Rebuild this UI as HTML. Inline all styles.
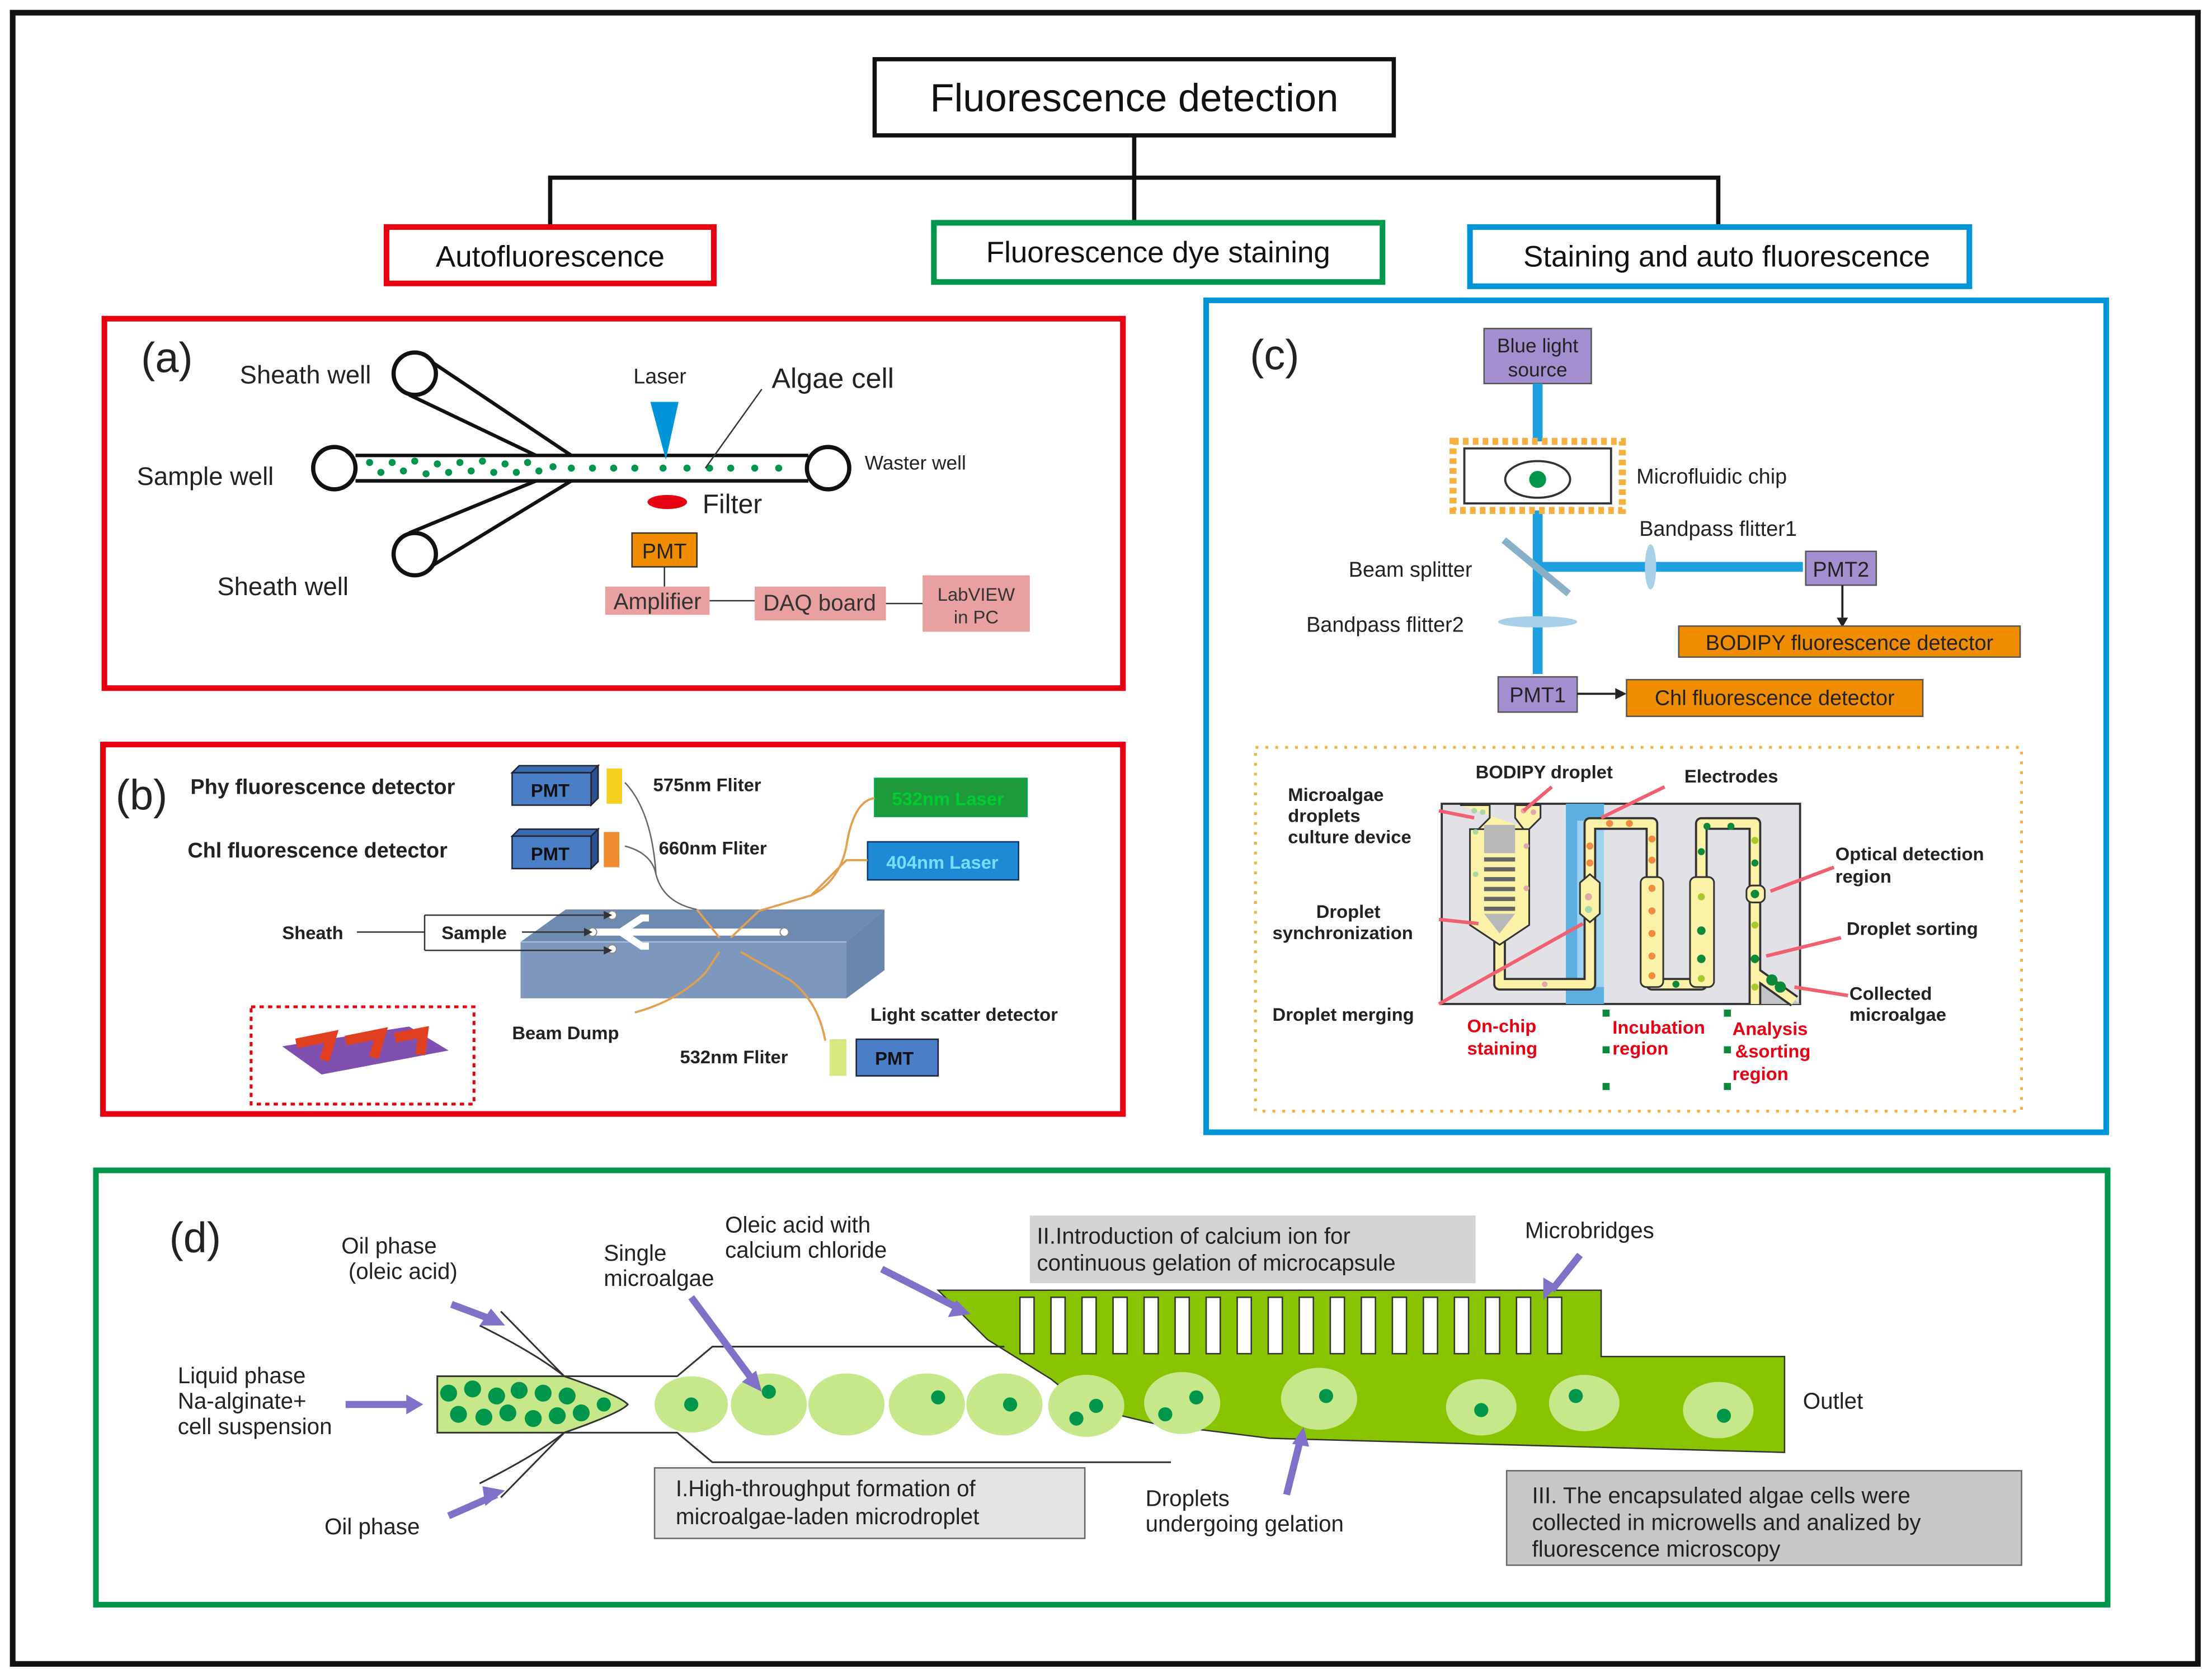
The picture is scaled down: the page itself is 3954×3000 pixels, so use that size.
<!DOCTYPE html>
<html><head><meta charset="utf-8"><style>
html,body{margin:0;padding:0;background:#fff}
svg{display:block}
text{font-family:"Liberation Sans",Arial,sans-serif}
</style></head><body>
<svg width="3954" height="3000" viewBox="0 0 1568 1190" preserveAspectRatio="none" xmlns="http://www.w3.org/2000/svg">
<rect x="0" y="0" width="1568" height="1190" fill="#fff"/>
<rect x="9" y="9" width="1549" height="1171" fill="none" stroke="#111" stroke-width="4"/>
<!-- tree -->
<rect x="620" y="42" width="368" height="54" fill="#fff" stroke="#111" stroke-width="3"/>
<text x="804" y="79" font-size="28" text-anchor="middle" fill="#111">Fluorescence detection</text>
<path d="M804 96V126M390 160V126H1218V160M804 126V158" fill="none" stroke="#111" stroke-width="3"/>
<rect x="274" y="161" width="232" height="40" fill="#fff" stroke="#e60012" stroke-width="4"/>
<text x="390" y="189" font-size="21" text-anchor="middle" fill="#111">Autofluorescence</text>
<rect x="662" y="158" width="318" height="42" fill="#fff" stroke="#00964b" stroke-width="4"/>
<text x="821" y="186" font-size="21" text-anchor="middle" fill="#111">Fluorescence dye staining</text>
<rect x="1042" y="161" width="354" height="42" fill="#fff" stroke="#0095d9" stroke-width="4"/>
<text x="1224" y="189" font-size="21" text-anchor="middle" fill="#111">Staining and auto fluorescence</text>

<!-- panel a -->
<rect x="74" y="226" width="722" height="262" fill="none" stroke="#e60012" stroke-width="4"/>
<text x="100" y="264" font-size="30" fill="#222">(a)</text>
<g fill="none" stroke="#111" stroke-width="2.5">
<line x1="252" y1="323" x2="573" y2="323"/><line x1="252" y1="341" x2="573" y2="341"/>
<line x1="305" y1="256" x2="405" y2="323"/><line x1="290" y1="280" x2="380" y2="323"/>
<line x1="305" y1="402" x2="405" y2="341"/><line x1="290" y1="378" x2="380" y2="341"/>
</g>
<g fill="#fff" stroke="#111" stroke-width="3">
<circle cx="237" cy="332" r="15"/><circle cx="587" cy="332" r="15"/>
<circle cx="294" cy="265" r="15"/><circle cx="294" cy="393" r="15"/>
</g>
<g fill="#00964b">
<circle cx="262" cy="328" r="2.5"/><circle cx="270" cy="335" r="2.5"/><circle cx="278" cy="328" r="2.5"/><circle cx="286" cy="334" r="2.5"/><circle cx="294" cy="327" r="2.5"/><circle cx="302" cy="336" r="2.5"/><circle cx="310" cy="329" r="2.5"/><circle cx="318" cy="335" r="2.5"/><circle cx="326" cy="328" r="2.5"/><circle cx="334" cy="334" r="2.5"/><circle cx="342" cy="327" r="2.5"/><circle cx="350" cy="335" r="2.5"/><circle cx="358" cy="329" r="2.5"/><circle cx="366" cy="335" r="2.5"/><circle cx="374" cy="328" r="2.5"/><circle cx="382" cy="334" r="2.5"/><circle cx="392" cy="331" r="2.5"/><circle cx="405" cy="332" r="2.5"/><circle cx="420" cy="332" r="2.5"/><circle cx="435" cy="332" r="2.5"/><circle cx="450" cy="332" r="2.5"/><circle cx="470" cy="332" r="2.5"/><circle cx="487" cy="332" r="2.5"/><circle cx="503" cy="332" r="2.5"/><circle cx="518" cy="332" r="2.5"/><circle cx="535" cy="332" r="2.5"/><circle cx="552" cy="332" r="2.5"/>
</g>
<polygon points="461,285 481,285 472,326" fill="#0095d9"/>
<line x1="500" y1="332" x2="540" y2="276" stroke="#333" stroke-width="1"/>
<ellipse cx="473" cy="356" rx="14" ry="5" fill="#e60012"/>
<text x="170" y="272" font-size="18" fill="#222">Sheath well</text>
<text x="97" y="344" font-size="18" fill="#222">Sample well</text>
<text x="154" y="422" font-size="18" fill="#222">Sheath well</text>
<text x="449" y="272" font-size="15" fill="#222">Laser</text>
<text x="547" y="275" font-size="20" fill="#222">Algae cell</text>
<text x="613" y="333" font-size="14" fill="#222">Waster well</text>
<text x="498" y="364" font-size="19" fill="#222">Filter</text>
<rect x="448" y="378" width="46" height="24" fill="#f08c00" stroke="#333" stroke-width="1"/>
<text x="471" y="396" font-size="15" text-anchor="middle" fill="#222">PMT</text>
<line x1="471" y1="402" x2="471" y2="416" stroke="#333"/>
<rect x="429" y="416" width="74" height="20" fill="#e8a0a0"/>
<text x="466" y="432" font-size="16" text-anchor="middle" fill="#333">Amplifier</text>
<line x1="503" y1="426" x2="535" y2="426" stroke="#333"/>
<rect x="535" y="416" width="93" height="24" fill="#e8a0a0"/>
<text x="581" y="433" font-size="16" text-anchor="middle" fill="#333">DAQ board</text>
<line x1="628" y1="428" x2="654" y2="428" stroke="#333"/>
<rect x="654" y="408" width="76" height="40" fill="#e8a0a0"/>
<text x="692" y="426" font-size="13" text-anchor="middle" fill="#333">LabVIEW</text>
<text x="692" y="442" font-size="13" text-anchor="middle" fill="#333">in PC</text>

<!-- panel b -->
<rect x="73" y="528" width="723" height="262" fill="none" stroke="#e60012" stroke-width="4"/>
<text x="82" y="574" font-size="30" fill="#222">(b)</text>
<text x="135" y="563" font-size="15" font-weight="bold" fill="#222">Phy fluorescence detector</text>
<text x="133" y="608" font-size="15" font-weight="bold" fill="#222">Chl fluorescence detector</text>
<g stroke="#223" stroke-width="1">
<polygon points="363,548 368,543 424,543 419,548" fill="#3a6ab0"/><polygon points="419,548 424,543 424,566 419,571" fill="#2a5090"/>
<rect x="363" y="548" width="56" height="23" fill="#4a7fc8"/>
<polygon points="363,593 368,588 424,588 419,593" fill="#3a6ab0"/><polygon points="419,593 424,588 424,611 419,616" fill="#2a5090"/>
<rect x="363" y="593" width="56" height="23" fill="#4a7fc8"/>
</g>
<text x="390" y="565" font-size="13" font-weight="bold" text-anchor="middle" fill="#111">PMT</text>
<text x="390" y="610" font-size="13" font-weight="bold" text-anchor="middle" fill="#111">PMT</text>
<rect x="430" y="545" width="11" height="25" fill="#f5d020"/>
<rect x="428" y="590" width="11" height="25" fill="#f08c30"/>
<text x="463" y="561" font-size="13" font-weight="bold" fill="#222">575nm Fliter</text>
<text x="467" y="606" font-size="13" font-weight="bold" fill="#222">660nm Fliter</text>
<rect x="620" y="552" width="108" height="27" fill="#1f9a3a" stroke="#0a5" stroke-width="1"/>
<text x="672" y="571" font-size="13" font-weight="bold" text-anchor="middle" fill="#0c3">532nm Laser</text>
<rect x="615" y="597" width="107" height="27" fill="#1e8ad6" stroke="#136" stroke-width="1"/>
<text x="668" y="616" font-size="13" font-weight="bold" text-anchor="middle" fill="#7df">404nm Laser</text>
<polygon points="401,645 627,645 600,668 369,668" fill="#6f8ab0"/>
<rect x="369" y="668" width="231" height="40" fill="#7d97bd"/>
<polygon points="600,668 627,645 627,688 600,708" fill="#6a86ad"/>
<line x1="369" y1="668" x2="600" y2="668" stroke="#a8bcd8" stroke-width="1"/>
<path d="M419 661 H556 M440 661 L455 651 H460 M440 661 L455 671 H460" stroke="#fff" stroke-width="5" fill="none"/>
<g fill="#fff" stroke="#888" stroke-width="0.8"><circle cx="420" cy="661" r="3"/><circle cx="556" cy="661" r="3"/><circle cx="434" cy="649" r="3"/><circle cx="434" cy="673" r="3"/></g>
<path d="M301 649 H428 M301 674 H428 M301 649 V674 M370 661 H414" stroke="#333" stroke-width="1" fill="none"/>
<polygon points="428,646 428,652 434,649" fill="#333"/><polygon points="428,671 428,677 434,674" fill="#333"/><polygon points="414,658 414,664 420,661" fill="#333"/>
<text x="313" y="666" font-size="13" font-weight="bold" fill="#222">Sample</text>
<line x1="253" y1="661" x2="301" y2="661" stroke="#333"/>
<text x="200" y="666" font-size="13" font-weight="bold" fill="#222">Sheath</text>
<path d="M443 555 Q462 575 465 620 Q470 640 494 645 M443 600 Q462 605 465 620" stroke="#666" stroke-width="1" fill="none"/>
<path d="M620 566 Q605 568 600 600 Q595 625 575 635 L538 646 M615 610 L600 610 L575 635" stroke="#e0a050" stroke-width="1.5" fill="none"/>
<path d="M494 645 L510 665 M538 646 L518 665 M510 675 L500 690 Q480 710 450 718 M525 675 L560 695 Q580 710 585 738" stroke="#e0a050" stroke-width="1.5" fill="none"/>
<text x="363" y="737" font-size="13" font-weight="bold" fill="#222">Beam Dump</text>
<text x="617" y="724" font-size="13" font-weight="bold" fill="#222">Light scatter detector</text>
<text x="482" y="754" font-size="13" font-weight="bold" fill="#222">532nm Fliter</text>
<rect x="588" y="737" width="12" height="26" fill="#d8e880"/>
<rect x="607" y="737" width="58" height="26" fill="#4a7fc8" stroke="#223" stroke-width="1"/>
<text x="634" y="755" font-size="13" font-weight="bold" text-anchor="middle" fill="#111">PMT</text>
<rect x="178" y="714" width="158" height="69" fill="none" stroke="#e60012" stroke-width="2" stroke-dasharray="3,3"/>
<polygon points="200,742 290,728 318,745 228,762" fill="#8050b0"/>
<path d="M210 740 L235 735 L230 752 M245 738 L270 733 L265 750 M280 736 L300 732 L298 748" stroke="#e04020" stroke-width="7" fill="none"/>

<!-- panel c -->
<rect x="855" y="213" width="638" height="590" fill="none" stroke="#0095d9" stroke-width="4"/>
<text x="886" y="262" font-size="30" fill="#222">(c)</text>
<rect x="1052" y="233" width="76" height="39" fill="#a38fd0" stroke="#555" stroke-width="1"/>
<text x="1090" y="250" font-size="14" text-anchor="middle" fill="#222">Blue light</text>
<text x="1090" y="267" font-size="14" text-anchor="middle" fill="#222">source</text>
<line x1="1090" y1="272" x2="1090" y2="478" stroke="#1ea0e0" stroke-width="7"/>
<line x1="1090" y1="402" x2="1278" y2="402" stroke="#1ea0e0" stroke-width="7"/>
<rect x="1030" y="313" width="120" height="49" fill="#fff" stroke="#f5b040" stroke-width="5" stroke-dasharray="4,3"/>
<rect x="1038" y="318" width="104" height="39" fill="#fff" stroke="#333" stroke-width="1.5"/>
<ellipse cx="1090" cy="340" rx="23" ry="13" fill="#fff" stroke="#333" stroke-width="1.5"/>
<circle cx="1090" cy="340" r="6" fill="#00964b"/>
<text x="1160" y="343" font-size="15" fill="#222">Microfluidic chip</text>
<line x1="1066" y1="383" x2="1112" y2="421" stroke="#8ab0c8" stroke-width="5"/>
<ellipse cx="1170" cy="402" rx="4" ry="16" fill="#a8d0e8"/>
<ellipse cx="1090" cy="441" rx="28" ry="4" fill="#a8d0e8"/>
<text x="956" y="409" font-size="15" fill="#222">Beam splitter</text>
<text x="1162" y="380" font-size="15" fill="#222">Bandpass flitter1</text>
<text x="926" y="448" font-size="15" fill="#222">Bandpass flitter2</text>
<rect x="1280" y="391" width="50" height="24" fill="#a38fd0" stroke="#555" stroke-width="1"/>
<text x="1305" y="409" font-size="15" text-anchor="middle" fill="#222">PMT2</text>
<path d="M1306 415V438" stroke="#222" stroke-width="1.5"/><polygon points="1302,438 1310,438 1306,445" fill="#222"/>
<rect x="1190" y="444" width="242" height="22" fill="#f08c00" stroke="#555" stroke-width="1"/>
<text x="1311" y="461" font-size="15" text-anchor="middle" fill="#222">BODIPY fluorescence detector</text>
<rect x="1062" y="480" width="56" height="25" fill="#a38fd0" stroke="#555" stroke-width="1"/>
<text x="1090" y="498" font-size="15" text-anchor="middle" fill="#222">PMT1</text>
<path d="M1118 492H1145" stroke="#222" stroke-width="1.5"/><polygon points="1145,488 1145,496 1153,492" fill="#222"/>
<rect x="1153" y="482" width="210" height="26" fill="#f08c00" stroke="#555" stroke-width="1"/>
<text x="1258" y="500" font-size="15" text-anchor="middle" fill="#222">Chl fluorescence detector</text>
<rect x="890" y="530" width="543" height="258" fill="none" stroke="#f5b040" stroke-width="2" stroke-dasharray="2,5"/>
<!-- chip -->
<rect x="1022" y="570" width="254" height="142" fill="#e2e2e6" stroke="#333" stroke-width="1.5"/>
<rect x="1110" y="570" width="27" height="142" fill="#9fd2ee"/>
<rect x="1110" y="570" width="8" height="142" fill="#5bb0e0"/>
<rect x="1110" y="570" width="27" height="12" fill="#5bb0e0"/><rect x="1110" y="700" width="27" height="12" fill="#5bb0e0"/>
<polygon points="1246,690 1276,712 1246,712" fill="#c4c4c8"/>
<!-- channels: dark outline then yellow -->
<g fill="none" stroke-linejoin="round">
<path d="M1063 662 V698 H1127 V584 H1171 V640 M1171 640 V698 H1206 V584 H1244 V712 M1244 690 L1272 710" stroke="#333" stroke-width="9"/>
<path d="M1063 662 V698 H1127 V584 H1171 V640 M1171 640 V698 H1206 V584 H1244 V712 M1244 690 L1272 710" stroke="#fbf2a8" stroke-width="6"/>
</g>
<path d="M1035 571 H1056 V580 L1048 588 V656 L1064 668 L1080 656 V588 L1074 580 V571 H1092 V580 L1084 588" fill="#fbf2a8" stroke="#333" stroke-width="1.2"/>
<path d="M1042 588 H1084 V656 L1063 670 L1042 656 Z" fill="#fbf2a8" stroke="#333" stroke-width="1.2"/>
<path d="M1052 585 H1074 V605 H1052 Z M1052 648 H1074 L1063 662 Z" fill="#b8b8b8"/>
<g fill="#666"><rect x="1052" y="608" width="22" height="3"/><rect x="1052" y="615" width="22" height="3"/><rect x="1052" y="622" width="22" height="3"/><rect x="1052" y="629" width="22" height="3"/><rect x="1052" y="636" width="22" height="3"/><rect x="1052" y="643" width="22" height="3"/></g>
<path d="M1120 626 L1127 620 L1134 626 V648 L1127 654 L1120 648 Z" fill="#fbf2a8" stroke="#333" stroke-width="1.2"/>
<rect x="1163" y="622" width="16" height="78" rx="4" fill="#fbf2a8" stroke="#333" stroke-width="1.2"/>
<rect x="1198" y="622" width="17" height="78" rx="4" fill="#fbf2a8" stroke="#333" stroke-width="1.2"/>
<rect x="1238" y="628" width="13" height="12" rx="4" fill="#fbf2a8" stroke="#333" stroke-width="1.2"/>
<g fill="#a8d8a8"><circle cx="1045" cy="575" r="2"/><circle cx="1051" cy="576" r="2"/><circle cx="1046" cy="590" r="2"/><circle cx="1046" cy="620" r="2"/><circle cx="1126" cy="645" r="2.5"/></g>
<g fill="#e0a8a8"><circle cx="1080" cy="575" r="2"/><circle cx="1087" cy="576" r="2"/><circle cx="1082" cy="600" r="2"/><circle cx="1082" cy="630" r="2"/><circle cx="1126" cy="636" r="2.5"/><circle cx="1095" cy="698" r="2"/></g>
<g fill="#f08c40"><circle cx="1127" cy="600" r="2.5"/><circle cx="1127" cy="612" r="2.5"/><circle cx="1141" cy="584" r="2.5"/><circle cx="1155" cy="584" r="2.5"/><circle cx="1171" cy="595" r="2.5"/><circle cx="1171" cy="610" r="2.5"/><circle cx="1171" cy="630" r="2.5"/><circle cx="1171" cy="646" r="2.5"/><circle cx="1171" cy="662" r="2.5"/><circle cx="1171" cy="678" r="2.5"/><circle cx="1171" cy="692" r="2.5"/></g>
<g fill="#0a8a3a"><circle cx="1210" cy="586" r="2.5"/><circle cx="1227" cy="586" r="2.5"/><circle cx="1206" cy="604" r="2.5"/><circle cx="1206" cy="660" r="3"/><circle cx="1206" cy="680" r="3"/><circle cx="1244" cy="634" r="3"/><circle cx="1244" cy="612" r="2.5"/><circle cx="1244" cy="680" r="3"/><circle cx="1188" cy="698" r="2.5"/><circle cx="1256" cy="695" r="4"/><circle cx="1262" cy="700" r="4"/></g>
<g fill="#a8c830"><circle cx="1206" cy="636" r="2.5"/><circle cx="1206" cy="694" r="2.5"/><circle cx="1244" cy="596" r="2.5"/><circle cx="1244" cy="656" r="2.5"/><circle cx="1244" cy="700" r="2.5"/></g>
<g stroke="#f06070" stroke-width="2.5">
<line x1="1020" y1="575" x2="1045" y2="580"/><line x1="1100" y1="558" x2="1080" y2="575"/>
<line x1="1180" y1="558" x2="1135" y2="580"/><line x1="1020" y1="652" x2="1048" y2="655"/>
<line x1="1020" y1="712" x2="1122" y2="655"/><line x1="1300" y1="615" x2="1255" y2="632"/>
<line x1="1305" y1="665" x2="1252" y2="678"/><line x1="1310" y1="706" x2="1272" y2="700"/>
</g>
<g font-size="13" font-weight="bold" fill="#222">
<text x="1046" y="552">BODIPY droplet</text><text x="1194" y="555">Electrodes</text>
<text x="913" y="568">Microalgae</text><text x="913" y="583">droplets</text><text x="913" y="598">culture device</text>
<text x="933" y="651">Droplet</text><text x="902" y="666">synchronization</text>
<text x="902" y="724">Droplet merging</text>
<text x="1301" y="610">Optical detection</text><text x="1301" y="626">region</text>
<text x="1309" y="663">Droplet sorting</text>
<text x="1311" y="709">Collected</text><text x="1311" y="724">microalgae</text>
</g>
<g font-size="13" font-weight="bold" fill="#e60012">
<text x="1040" y="732">On-chip</text><text x="1040" y="748">staining</text>
<text x="1143" y="733">Incubation</text><text x="1143" y="748">region</text>
<text x="1228" y="734">Analysis</text><text x="1230" y="750">&amp;sorting</text><text x="1228" y="766">region</text>
</g>
<g fill="#0a8a3a"><rect x="1136" y="716" width="5" height="5"/><rect x="1136" y="742" width="5" height="5"/><rect x="1136" y="768" width="5" height="5"/><rect x="1222" y="716" width="5" height="5"/><rect x="1222" y="742" width="5" height="5"/><rect x="1222" y="768" width="5" height="5"/></g>

<!-- panel d -->
<rect x="68" y="830" width="1426" height="308" fill="none" stroke="#00964b" stroke-width="4"/>
<text x="120" y="888" font-size="30" fill="#222">(d)</text>
<polygon points="665,915 1135,915 1135,962 1265,962 1265,1030 900,1020 820,1010 770,998 745,978 700,950" fill="#88c400" stroke="#333" stroke-width="1"/>
<g fill="#fff" stroke="#333" stroke-width="1">
<rect x="723" y="920" width="10" height="40"/><rect x="745" y="920" width="10" height="40"/><rect x="767" y="920" width="10" height="40"/><rect x="789" y="920" width="10" height="40"/><rect x="811" y="920" width="10" height="40"/><rect x="833" y="920" width="10" height="40"/><rect x="855" y="920" width="10" height="40"/><rect x="877" y="920" width="10" height="40"/><rect x="899" y="920" width="10" height="40"/><rect x="921" y="920" width="10" height="40"/><rect x="943" y="920" width="10" height="40"/><rect x="965" y="920" width="10" height="40"/><rect x="987" y="920" width="10" height="40"/><rect x="1009" y="920" width="10" height="40"/><rect x="1031" y="920" width="10" height="40"/><rect x="1053" y="920" width="10" height="40"/><rect x="1075" y="920" width="10" height="40"/><rect x="1097" y="920" width="10" height="40"/>
</g>
<path d="M400 976 H480 L505 955 H712 M400 1016 H480 L505 1037 H830 M340 940 Q380 960 400 976 M355 930 L400 976 M340 1052 Q380 1032 400 1016 M355 1062 L400 1016" fill="none" stroke="#333" stroke-width="1.2"/>
<path d="M310 976 H400 Q440 990 445 996 Q440 1002 400 1016 H310 Z" fill="#c6e88a" stroke="#333" stroke-width="1.2"/>
<g fill="#00964b"><circle cx="318" cy="988" r="6"/><circle cx="335" cy="985" r="6"/><circle cx="352" cy="990" r="6"/><circle cx="368" cy="986" r="6"/><circle cx="385" cy="988" r="6"/><circle cx="402" cy="990" r="6"/><circle cx="325" cy="1003" r="6"/><circle cx="343" cy="1005" r="6"/><circle cx="360" cy="1002" r="6"/><circle cx="378" cy="1006" r="6"/><circle cx="395" cy="1004" r="6"/><circle cx="412" cy="1002" r="6"/><circle cx="428" cy="996" r="5"/></g>
<g fill="#c6e88a">
<ellipse cx="490" cy="996" rx="26" ry="20"/><ellipse cx="545" cy="996" rx="27" ry="22"/><ellipse cx="600" cy="996" rx="27" ry="22"/><ellipse cx="657" cy="996" rx="27" ry="22"/><ellipse cx="712" cy="996" rx="27" ry="22"/><ellipse cx="770" cy="997" rx="27" ry="22"/><ellipse cx="838" cy="995" rx="27" ry="22"/><ellipse cx="935" cy="992" rx="27" ry="22"/><ellipse cx="1050" cy="998" rx="25" ry="20"/><ellipse cx="1123" cy="995" rx="25" ry="20"/><ellipse cx="1218" cy="1000" rx="25" ry="20"/>
</g>
<g fill="#00964b"><circle cx="490" cy="996" r="5"/><circle cx="545" cy="987" r="5"/><circle cx="665" cy="991" r="5"/><circle cx="716" cy="996" r="5"/><circle cx="763" cy="1006" r="5"/><circle cx="777" cy="997" r="5"/><circle cx="826" cy="1003" r="5"/><circle cx="848" cy="991" r="5"/><circle cx="940" cy="990" r="5"/><circle cx="1050" cy="1000" r="5"/><circle cx="1117" cy="990" r="5"/><circle cx="1222" cy="1004" r="5"/></g>
<g stroke="#8070c8" stroke-width="5">
<line x1="320" y1="925" x2="352" y2="937"/><line x1="245" y1="996" x2="293" y2="996"/>
<line x1="318" y1="1075" x2="352" y2="1060"/><line x1="490" y1="920" x2="533" y2="978"/>
<line x1="625" y1="900" x2="680" y2="928"/><line x1="1120" y1="890" x2="1100" y2="915"/>
<line x1="912" y1="1060" x2="922" y2="1020"/>
</g>
<g fill="#8070c8"><polygon points="358,940 340,940 348,928"/><polygon points="300,996 288,989 288,1003"/><polygon points="358,1057 344,1068 342,1054"/><polygon points="540,987 526,980 536,972"/><polygon points="688,932 672,934 678,922"/><polygon points="1094,922 1094,906 1104,912"/><polygon points="924,1012 928,1026 916,1024"/></g>
<g font-size="16" fill="#222">
<text x="242" y="889">Oil phase</text><text x="247" y="907">(oleic acid)</text>
<text x="126" y="981">Liquid phase</text><text x="126" y="999">Na-alginate+</text><text x="126" y="1017">cell suspension</text>
<text x="230" y="1088">Oil phase</text>
<text x="428" y="894">Single</text><text x="428" y="912">microalgae</text>
<text x="514" y="874">Oleic acid with</text><text x="514" y="892">calcium chloride</text>
<text x="1081" y="878">Microbridges</text>
<text x="1278" y="999">Outlet</text>
<text x="812" y="1068">Droplets</text><text x="812" y="1086">undergoing gelation</text>
</g>
<rect x="730" y="862" width="316" height="48" fill="#d4d4d4"/>
<text x="735" y="882" font-size="16" fill="#222">II.Introduction of calcium ion for</text>
<text x="735" y="901" font-size="16" fill="#222">continuous gelation of microcapsule</text>
<rect x="464" y="1041" width="305" height="50" fill="#e4e4e4" stroke="#666" stroke-width="1"/>
<text x="479" y="1061" font-size="16" fill="#222">I.High-throughput formation of</text>
<text x="479" y="1081" font-size="16" fill="#222">microalgae-laden microdroplet</text>
<rect x="1068" y="1043" width="365" height="67" fill="#c8c8c8" stroke="#666" stroke-width="1"/>
<text x="1086" y="1066" font-size="16" fill="#222">III.  The encapsulated algae cells were</text>
<text x="1086" y="1085" font-size="16" fill="#222">collected in microwells and analized by</text>
<text x="1086" y="1104" font-size="16" fill="#222">fluorescence microscopy</text>
</svg>
</body></html>
